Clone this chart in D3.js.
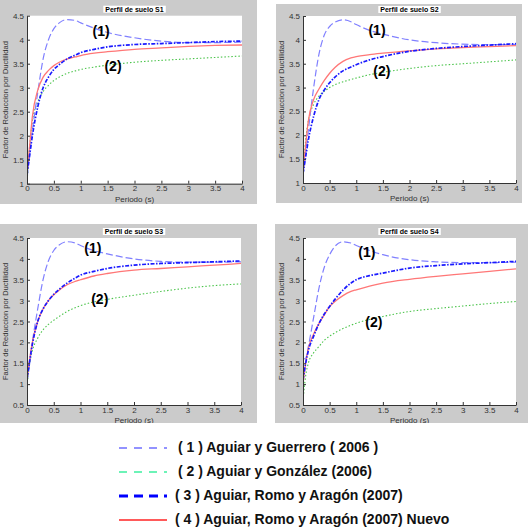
<!DOCTYPE html>
<html>
<head>
<meta charset="utf-8">
<script src="https://cdn.jsdelivr.net/npm/d3@7"></script>
<style>
  body { margin: 0; background: #fff; }
  svg { display: block; font-family: Arial, "Liberation Sans", sans-serif; }
</style>
</head>
<body>
<div id="chart"></div>
<script>
// periods (s) at which curves were read
var periodos = [0, 0.05, 0.1, 0.2, 0.3, 0.4, 0.5, 0.6, 0.75, 0.9, 1, 1.25, 1.5, 2, 2.5, 3, 3.5, 4];

var s1Guerrero = [1.1, 1.6, 2.1, 2.9, 3.6, 4.0, 4.23, 4.35, 4.42, 4.4, 4.35, 4.24, 4.15, 4.04, 3.97, 3.94, 3.94, 3.95];
var s1Gonzalez = [1.0, 1.8, 2.3, 2.7, 2.92, 3.05, 3.15, 3.22, 3.3, 3.35, 3.38, 3.43, 3.47, 3.53, 3.57, 3.6, 3.63, 3.66];
var s1Romo     = [1.2, 1.6, 2.0, 2.6, 3.0, 3.22, 3.38, 3.48, 3.6, 3.68, 3.73, 3.8, 3.85, 3.9, 3.92, 3.94, 3.96, 3.97];
var s1Nuevo    = [1.2, 1.8, 2.4, 2.95, 3.22, 3.36, 3.46, 3.53, 3.6, 3.64, 3.67, 3.72, 3.75, 3.8, 3.83, 3.86, 3.88, 3.89];

var s2Guerrero = [1.15, 1.6, 2.1, 3.0, 3.7, 4.1, 4.28, 4.37, 4.42, 4.38, 4.32, 4.2, 4.12, 4.0, 3.94, 3.91, 3.9, 3.9];
var s2Gonzalez = [1.1, 1.9, 2.3, 2.65, 2.82, 2.92, 3.0, 3.06, 3.12, 3.17, 3.2, 3.27, 3.32, 3.4, 3.46, 3.5, 3.54, 3.58];
var s2Romo     = [1.2, 1.55, 1.9, 2.4, 2.75, 2.95, 3.1, 3.22, 3.35, 3.43, 3.48, 3.58, 3.65, 3.76, 3.82, 3.86, 3.89, 3.92];
var s2Nuevo    = [1.2, 1.8, 2.3, 2.75, 2.97, 3.15, 3.3, 3.42, 3.55, 3.62, 3.65, 3.69, 3.72, 3.77, 3.81, 3.84, 3.86, 3.88];

var s3Guerrero = [1.1, 1.5, 2.0, 2.8, 3.5, 3.95, 4.2, 4.33, 4.41, 4.38, 4.32, 4.2, 4.12, 4.0, 3.94, 3.92, 3.92, 3.93];
var s3Gonzalez = [0.95, 1.5, 1.8, 2.1, 2.3, 2.43, 2.53, 2.62, 2.74, 2.83, 2.88, 2.97, 3.03, 3.13, 3.22, 3.3, 3.36, 3.4];
var s3Romo     = [1.1, 1.55, 1.95, 2.5, 2.8, 3.0, 3.15, 3.27, 3.42, 3.54, 3.61, 3.7, 3.77, 3.85, 3.89, 3.91, 3.93, 3.95];
var s3Nuevo    = [1.1, 1.6, 2.0, 2.5, 2.8, 3.0, 3.14, 3.25, 3.38, 3.46, 3.5, 3.59, 3.65, 3.73, 3.77, 3.81, 3.85, 3.89];

var s4Guerrero = [1.6, 1.62, 1.9, 2.6, 3.3, 3.8, 4.1, 4.3, 4.41, 4.38, 4.32, 4.2, 4.1, 3.98, 3.93, 3.91, 3.91, 3.92];
var s4Gonzalez = [0.6, 1.2, 1.5, 1.75, 1.9, 2.05, 2.15, 2.23, 2.33, 2.41, 2.46, 2.55, 2.62, 2.74, 2.81, 2.87, 2.93, 2.98];
var s4Romo     = [1.1, 1.5, 1.8, 2.15, 2.45, 2.68, 2.86, 3.03, 3.25, 3.42, 3.5, 3.6, 3.66, 3.78, 3.84, 3.88, 3.91, 3.94];
var s4Nuevo    = [1.0, 1.5, 1.85, 2.2, 2.45, 2.66, 2.86, 2.98, 3.12, 3.22, 3.26, 3.35, 3.42, 3.51, 3.58, 3.64, 3.7, 3.76];

var xTicks = [0, 0.5, 1, 1.5, 2, 2.5, 3, 3.5, 4];
var yTicksTop = [1, 1.5, 2, 2.5, 3, 3.5, 4, 4.5];
var yTicksBottom = [0.5, 1, 1.5, 2, 2.5, 3, 3.5, 4, 4.5];

var leyenda = [
  '( 1 ) Aguiar y Guerrero ( 2006 )',
  '( 2 ) Aguiar y González (2006)',
  '( 3 ) Aguiar, Romo y Aragón (2007)',
  '( 4 ) Aguiar, Romo y Aragón (2007) Nuevo'
];

// label anchors (data units) for "(1)" and "(2)"
var etiquetas1 = [[1.38, 4.16], [1.39, 4.17], [1.23, 4.24], [1.2, 4.14]];
var etiquetas2 = [[1.6, 3.43], [1.48, 3.33], [1.36, 3.0], [1.33, 2.46]];

var estilos = [
  {stroke: '#8080ff', width: 1.2, dash: '7,3'},
  {stroke: '#4cc44c', width: 1.1, dash: '1.5,2'},
  {stroke: '#1a1aff', width: 1.7, dash: '4,1.5,1.5,1.5'},
  {stroke: '#ff7777', width: 1.3, dash: null}
];
var estilosLeyenda = [
  {stroke: '#6f6fff', width: 1.5, dash: '8,7'},
  {stroke: '#3cf0a0', width: 1.5, dash: '8,7'},
  {stroke: '#0000ff', width: 3, dash: '9,6'},
  {stroke: '#ff5a5a', width: 2, dash: null}
];

var paneles = [
  {title: 'Perfil de suelo S1', box: [0, 0, 257, 204], plot: [27, 15.7, 242, 183.7], yDom: [1, 4.5], yTicks: yTicksTop,
   series: [s1Guerrero, s1Gonzalez, s1Romo, s1Nuevo]},
  {title: 'Perfil de suelo S2', box: [276, 4, 522, 203], plot: [303, 16, 516, 183], yDom: [1, 4.5], yTicks: yTicksTop,
   series: [s2Guerrero, s2Gonzalez, s2Romo, s2Nuevo]},
  {title: 'Perfil de suelo S3', box: [0, 224, 257, 423], plot: [27, 238, 241, 405], yDom: [0.5, 4.5], yTicks: yTicksBottom,
   series: [s3Guerrero, s3Gonzalez, s3Romo, s3Nuevo]},
  {title: 'Perfil de suelo S4', box: [275, 224, 528, 423], plot: [303, 238, 516, 405], yDom: [0.5, 4.5], yTicks: yTicksBottom,
   series: [s4Guerrero, s4Gonzalez, s4Romo, s4Nuevo]}
];

var svg = d3.select('#chart')
            .append('svg')
            .attr('width', 528)
            .attr('height', 529);

paneles.forEach((p, k) => {
  var b = p.box, r = p.plot;
  var clipId = 'clip' + k;

  svg.append('clipPath').attr('id', clipId)
     .append('rect')
     .attr('x', b[0]).attr('y', b[1])
     .attr('width', b[2] - b[0]).attr('height', b[3] - b[1]);

  var g = svg.append('g').attr('clip-path', 'url(#' + clipId + ')');

  g.append('rect')
   .attr('x', b[0]).attr('y', b[1])
   .attr('width', b[2] - b[0]).attr('height', b[3] - b[1])
   .attr('fill', '#cbcbcb');

  g.append('rect')
   .attr('x', r[0]).attr('y', r[1])
   .attr('width', r[2] - r[0]).attr('height', r[3] - r[1])
   .attr('fill', '#fff');

  var x = d3.scaleLinear().domain([0, 4]).range([r[0], r[2]]);
  var y = d3.scaleLinear().domain(p.yDom).range([r[3], r[1]]);

  var line = d3.line()
               .x((d) => x(d[0]))
               .y((d) => y(d[1]))
               .curve(d3.curveMonotoneX);

  var plotClip = 'pclip' + k;
  svg.append('clipPath').attr('id', plotClip)
     .append('rect')
     .attr('x', r[0]).attr('y', r[1] - 2)
     .attr('width', r[2] - r[0] + 2).attr('height', r[3] - r[1] + 2);

  var lines = g.append('g').attr('clip-path', 'url(#' + plotClip + ')');
  // green first, then light blue, red, blue on top
  [1, 0, 3, 2].forEach((i) => {
    var st = estilos[i];
    lines.append('path')
         .datum(periodos.map((t, j) => [t, p.series[i][j]]))
         .attr('d', line)
         .attr('fill', 'none')
         .attr('stroke', st.stroke)
         .attr('stroke-width', st.width)
         .attr('stroke-dasharray', st.dash);
  });

  var xAxis = d3.axisBottom(x).tickValues(xTicks).tickSizeInner(-3).tickSizeOuter(0)
                .tickFormat(d3.format('~g'));
  var yAxis = d3.axisLeft(y).tickValues(p.yTicks).tickSizeInner(-3).tickSizeOuter(0)
                .tickFormat(d3.format('~g'));

  var ax = g.append('g')
            .attr('transform', 'translate(0,' + r[3] + ')')
            .call(xAxis);
  ax.selectAll('text').attr('y', 2);
  var ay = g.append('g')
            .attr('transform', 'translate(' + r[0] + ',0)')
            .call(yAxis);
  ay.selectAll('text').attr('x', -3);

  g.selectAll('.domain').attr('stroke', '#333').attr('stroke-width', 1);
  g.selectAll('.tick line').attr('stroke', '#333');
  g.selectAll('.tick text').attr('fill', '#333').style('font-size', '8px');

  var cx = (r[0] + r[2]) / 2;
  g.append('text')
   .attr('x', cx)
   .attr('y', r[3] + 18)
   .attr('text-anchor', 'middle')
   .attr('fill', '#333')
   .style('font-size', '8px')
   .text('Periodo (s)');

  g.append('text')
   .attr('transform', 'translate(' + (r[0] - 19) + ',' + ((r[1] + r[3]) / 2) + ') rotate(-90)')
   .attr('text-anchor', 'middle')
   .attr('fill', '#333')
   .style('font-size', '7.5px')
   .text('Factor de Reduccion por Ductilidad');

  var titleBox = g.append('rect').attr('fill', '#fff');
  var title = g.append('text')
               .attr('x', cx)
               .attr('y', r[1] - 4)
               .attr('text-anchor', 'middle')
               .attr('fill', '#000')
               .style('font-size', '7px')
               .style('font-weight', 'bold')
               .text(p.title);
  var bb = title.node().getBBox();
  titleBox.attr('x', bb.x - 2).attr('y', bb.y)
          .attr('width', bb.width + 4).attr('height', bb.height);

  [etiquetas1[k], etiquetas2[k]].forEach((e, i) => {
    g.append('text')
     .attr('x', x(e[0]))
     .attr('y', y(e[1]))
     .attr('text-anchor', 'middle')
     .attr('dominant-baseline', 'middle')
     .style('font-size', '14px')
     .style('font-weight', 'bold')
     .attr('fill', '#000')
     .text('(' + (i + 1) + ')');
  });
});

// legend
var legY = d3.scaleBand().domain(d3.range(leyenda.length)).range([436, 532]);

var leg = svg.append('g');
leyenda.forEach((txt, i) => {
  var yy = legY(i) + legY.bandwidth() / 2;
  var st = estilosLeyenda[i];
  leg.append('line')
     .attr('x1', 119).attr('x2', 167)
     .attr('y1', yy).attr('y2', yy)
     .attr('stroke', st.stroke)
     .attr('stroke-width', st.width)
     .attr('stroke-dasharray', st.dash);
  leg.append('text')
     .attr('x', i < 2 ? 178 : 175)
     .attr('y', yy)
     .attr('dominant-baseline', 'middle')
     .style('font-size', '14px')
     .style('font-weight', 'bold')
     .attr('fill', '#111')
     .text(txt);
});
</script>
</body>
</html>
